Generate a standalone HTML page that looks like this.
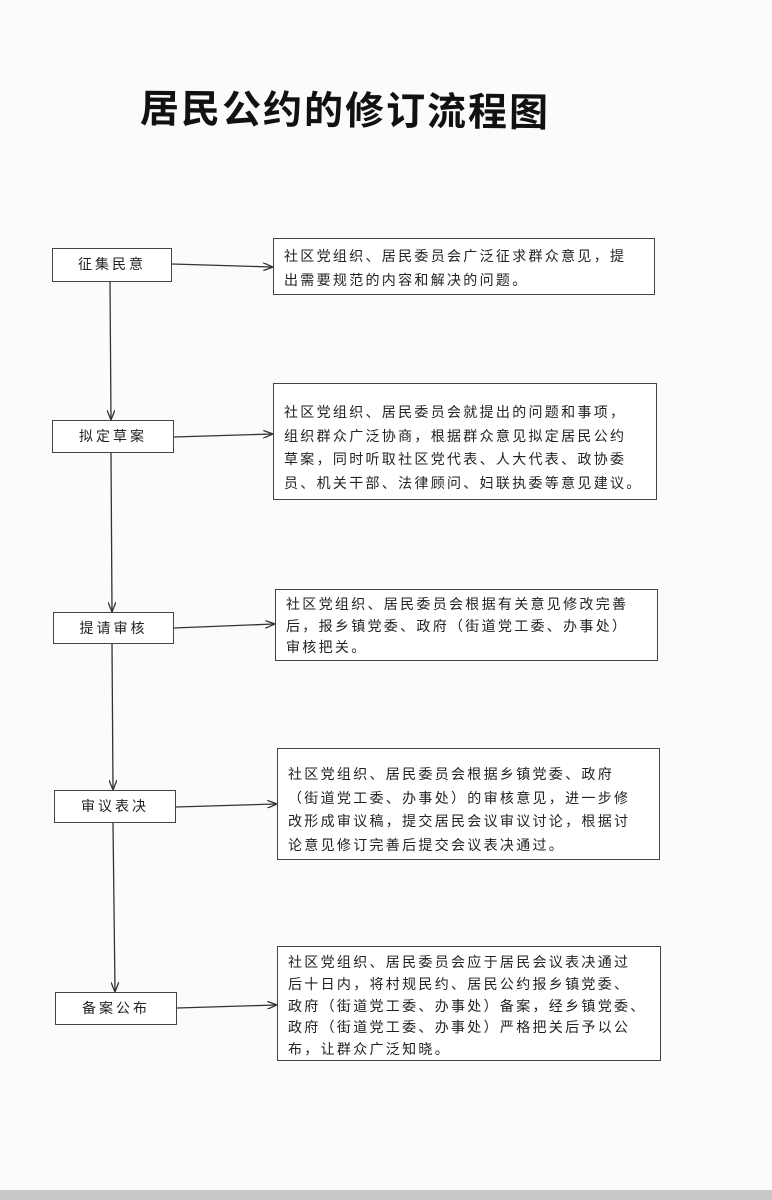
<!DOCTYPE html>
<html><head><meta charset="utf-8"><style>
body{margin:0;width:772px;height:1200px;background:#fbfbfa;position:relative;overflow:hidden;font-family:"Liberation Sans","Noto Sans CJK SC",sans-serif;color:#222}
.t{position:absolute;left:140px;top:80px;font-size:39px;font-weight:bold;letter-spacing:2px;color:#111;white-space:nowrap;transform:rotate(0.6deg)}
.b{position:absolute;border:1.3px solid #444;box-sizing:border-box;background:#fff}
.l{font-size:14px;letter-spacing:3px;text-align:center;line-height:30px}
.r{font-size:14px;letter-spacing:2.3px;line-height:23.5px;padding:6px 0 0 10px;white-space:nowrap}
svg{position:absolute;left:0;top:0}
</style></head><body>
<div class="t">居民公约的修订流程图</div>
<svg width="772" height="1200"><defs><marker id="a" markerWidth="10" markerHeight="8" refX="9" refY="4" orient="auto" markerUnits="userSpaceOnUse"><path d="M0,0 L10,4 L0,8" fill="none" stroke="#333" stroke-width="1.3"/></marker></defs>
<g stroke="#333" stroke-width="1.3" fill="none" marker-end="url(#a)">
<line x1="110" y1="282" x2="111" y2="419"/>
<line x1="111" y1="453" x2="112" y2="611"/>
<line x1="112" y1="644" x2="113" y2="789"/>
<line x1="113" y1="823" x2="115" y2="991"/>
<line x1="172" y1="264" x2="272" y2="267"/>
<line x1="174" y1="437" x2="272" y2="434"/>
<line x1="174" y1="628" x2="274" y2="624"/>
<line x1="176" y1="807" x2="276" y2="804"/>
<line x1="177" y1="1008" x2="276" y2="1005"/>
</g></svg>
<div class="b l" style="left:52px;top:248px;width:120px;height:34px">征集民意</div>
<div class="b l" style="left:52px;top:420px;width:122px;height:33px">拟定草案</div>
<div class="b l" style="left:53px;top:612px;width:121px;height:32px">提请审核</div>
<div class="b l" style="left:54px;top:790px;width:122px;height:33px">审议表决</div>
<div class="b l" style="left:55px;top:992px;width:122px;height:33px">备案公布</div>
<div class="b r" style="left:273px;top:238px;width:382px;height:57px">社区党组织、居民委员会广泛征求群众意见，提<br>出需要规范的内容和解决的问题。</div>
<div class="b r" style="left:273px;top:383px;width:384px;height:117px;padding-top:17px">社区党组织、居民委员会就提出的问题和事项，<br>组织群众广泛协商，根据群众意见拟定居民公约<br>草案，同时听取社区党代表、人大代表、政协委<br>员、机关干部、法律顾问、妇联执委等意见建议。</div>
<div class="b r" style="left:275px;top:589px;width:383px;height:72px;line-height:21.5px;padding-top:4px">社区党组织、居民委员会根据有关意见修改完善<br>后，报乡镇党委、政府（街道党工委、办事处）<br>审核把关。</div>
<div class="b r" style="left:277px;top:748px;width:383px;height:112px;padding-top:14px">社区党组织、居民委员会根据乡镇党委、政府<br>（街道党工委、办事处）的审核意见，进一步修<br>改形成审议稿，提交居民会议审议讨论，根据讨<br>论意见修订完善后提交会议表决通过。</div>
<div class="b r" style="left:277px;top:946px;width:384px;height:115px;padding-top:5px;line-height:21.8px">社区党组织、居民委员会应于居民会议表决通过<br>后十日内，将村规民约、居民公约报乡镇党委、<br>政府（街道党工委、办事处）备案，经乡镇党委、<br>政府（街道党工委、办事处）严格把关后予以公<br>布，让群众广泛知晓。</div>
<div style="position:absolute;left:0;top:1190px;width:772px;height:10px;background:#c8c8c8"></div>
</body></html>
